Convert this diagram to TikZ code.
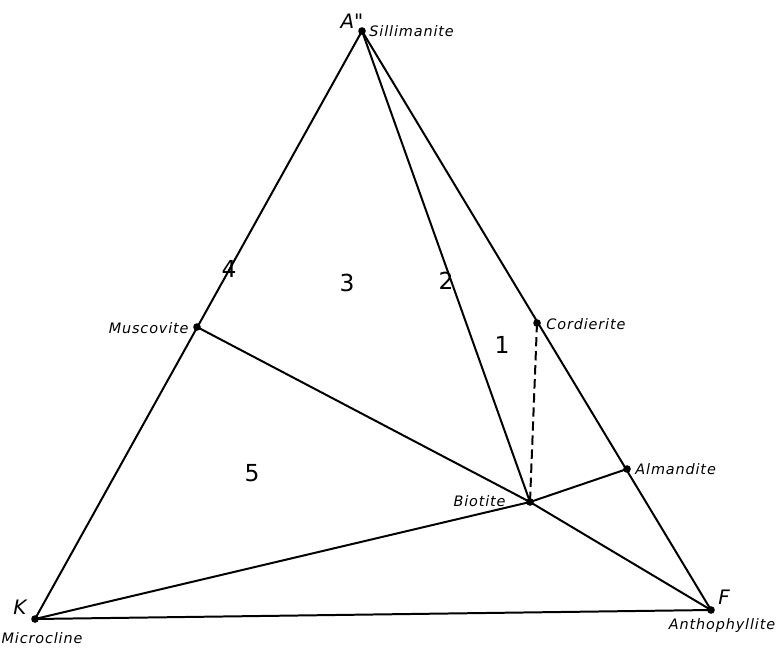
\documentclass[tikz,border=0pt]{standalone}
\usepackage{fontspec}
\setsansfont{DejaVu Sans}
\begin{document}
\begin{tikzpicture}[x=0.03cm,y=-0.03cm,
  edge/.style={line width=1.7pt},
  dot/.style={circle,fill=black,inner sep=0pt,minimum size=6.5pt},
  lbl/.style={font=\sffamily\itshape\fontsize{12.3}{13}\selectfont\addfontfeature{LetterSpace=6},inner sep=1pt},
  num/.style={font=\sffamily\fontsize{20}{21}\selectfont,inner sep=0pt},
  corner/.style={font=\sffamily\itshape\fontsize{17}{18}\selectfont,inner sep=0pt}]
\useasboundingbox (0,0) rectangle (778,648);
\fill[white] (0,0) rectangle (778,648);
\node[dot] (A) at (362,31) {};
\node[dot] (K) at (35,619) {};
\node[dot] (F) at (711,610) {};
\node[dot] (M) at (197,327) {};
\node[dot] (C) at (537,323) {};
\node[dot] (B) at (530,502) {};
\node[dot] (Al) at (627,469) {};
\draw[edge] (A.center) -- (K.center) -- (F.center) -- cycle;
\draw[edge] (A.center) -- (B.center);
\draw[edge] (M.center) -- (B.center) -- (F.center);
\draw[edge] (K.center) -- (B.center) -- (Al.center);
\draw[edge,dash pattern=on 8pt off 4pt] (C.center) -- (B.center);
\node[corner] (tA) at (352,21) {A\textquotedbl};
\node[lbl,anchor=west] (tS) at (368,31) {Sillimanite};
\node[corner] (tK) at (20,607) {K};
\node[lbl] (tMi) at (42,638) {Microcline};
\node[corner] (tF) at (724,597) {F};
\node[lbl] (tAn) at (722,626) {Anthophyllite};
\node[lbl,anchor=east] (tM) at (190,328) {Muscovite};
\node[lbl,anchor=west] (tC) at (545,324) {Cordierite};
\node[lbl,anchor=west] (tAl) at (634,469) {Almandite};
\node[lbl,anchor=east] (tB) at (507,501) {Biotite};
\node[num] (n4) at (229,269) {4};
\node[num] (n3) at (347,283) {3};
\node[num] (n2) at (446,281) {2};
\node[num] (n1) at (502,345) {1};
\node[num] (n5) at (252,473) {5};
\end{tikzpicture}
\end{document}
